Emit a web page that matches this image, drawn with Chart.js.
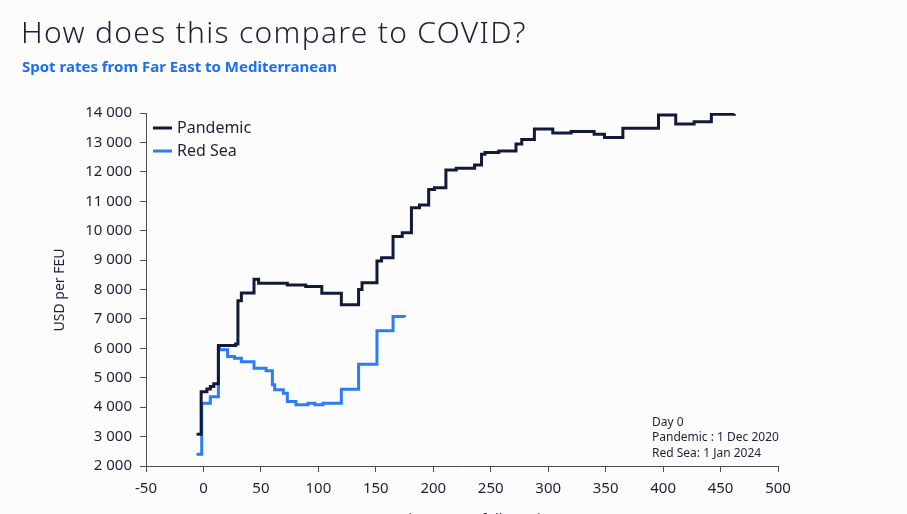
<!DOCTYPE html>
<html>
<head>
<meta charset="utf-8">
<script src="https://cdn.jsdelivr.net/npm/chart.js@4.4.1/dist/chart.umd.min.js"></script>
<style>
    html, body { margin: 0; padding: 0; background: #fcfcfd; }
    #wrap { width: 907px; height: 514px; position: relative; }
</style>
</head>
<body>
<div id="wrap"><canvas id="spotChart"></canvas></div>
<script>
// day since day 0 where each rate level starts (stepped lines)
const pandemicDays = [-6, -2, 3, 6, 9, 13, 28, 30, 33, 44, 48, 73, 89, 103, 120, 135, 138, 151, 155, 165, 173, 181, 188, 196, 201, 211, 220, 236, 242, 245, 257, 272, 277, 288, 304, 320, 340, 349, 365, 396, 411, 427, 442, 462];
const pandemicRates = [3080, 4520, 4620, 4700, 4800, 6100, 6150, 7620, 7880, 8350, 8210, 8150, 8100, 7870, 7480, 8000, 8230, 8970, 9080, 9800, 9930, 10780, 10870, 11400, 11460, 12060, 12120, 12230, 12600, 12660, 12710, 12950, 13100, 13460, 13320, 13370, 13280, 13170, 13480, 13930, 13630, 13700, 13960, 13970];

const redSeaDays = [-6, -1.5, 6, 13, 14, 21, 27, 33, 44, 54.5, 60, 62, 69.5, 73, 80.5, 91, 97, 104, 120, 135, 151, 165, 175];
const redSeaRates = [2400, 4130, 4350, 6000, 5950, 5720, 5660, 5540, 5320, 5240, 4760, 4590, 4470, 4190, 4080, 4130, 4080, 4130, 4610, 5460, 6600, 7080, 7060];

const xTickStep = 50;
const yTickStep = 1000;

const navy = '#121a3a';
const blue = '#2b7cf7';
const textColor = '#1c2135';
const axisColor = '#4a4d57';

function toPoints(days, rates) {
    return days.map(function (d, i) {
        return { x: d, y: rates[i] };
    });
}

function formatThousands(value) {
    return String(value).replace(/\B(?=(\d{3})+(?!\d))/g, ' ');
}

const decorPlugin = {
    id: 'decor',
    beforeDraw: function (chart) {
        const ctx = chart.ctx;
        ctx.save();
        ctx.fillStyle = '#fcfcfd';
        ctx.fillRect(0, 0, chart.width, chart.height);
        ctx.restore();
    },
    afterDraw: function (chart) {
        const ctx = chart.ctx;
        ctx.save();

        // heading
        ctx.fillStyle = textColor;
        ctx.textBaseline = 'alphabetic';
        ctx.textAlign = 'left';
        ctx.letterSpacing = '1.3px';
        ctx.font = '300 30px "Noto Sans"';
        ctx.fillText('How does this compare to COVID?', 21, 43);
        ctx.letterSpacing = '0px';

        ctx.fillStyle = '#1b6ff2';
        ctx.font = 'bold 15px "Noto Sans"';
        ctx.fillText('Spot rates from Far East to Mediterranean', 22, 72);

        // legend
        ctx.textBaseline = 'middle';
        ctx.font = '16px "Noto Sans"';
        const items = [
            { label: 'Pandemic', color: navy, y: 128 },
            { label: 'Red Sea', color: blue, y: 151 },
        ];
        items.forEach(function (item) {
            ctx.strokeStyle = item.color;
            ctx.lineWidth = 3;
            ctx.beginPath();
            ctx.moveTo(153, item.y);
            ctx.lineTo(172, item.y);
            ctx.stroke();
            ctx.fillStyle = textColor;
            ctx.fillText(item.label, 177, item.y);
        });

        // day 0 note
        ctx.font = '12px "Noto Sans"';
        ctx.fillText('Day 0', 652, 423);
        ctx.fillText('Pandemic : 1 Dec 2020', 652, 438);
        ctx.fillText('Red Sea: 1 Jan 2024', 652, 454);

        // axis titles
        ctx.font = '14px "Noto Sans"';
        ctx.textAlign = 'center';
        ctx.fillText('Days since start of disruption', 462, 520);

        ctx.translate(60, 290);
        ctx.rotate(-Math.PI / 2);
        ctx.fillText('USD per FEU', 0, 0);

        ctx.restore();
    },
};

new Chart(document.getElementById('spotChart'), {
    type: 'line',
    data: {
        datasets: [
            {
                label: 'Pandemic',
                data: toPoints(pandemicDays, pandemicRates),
                borderColor: navy,
                borderWidth: 3,
                pointRadius: 0,
                stepped: true,
            },
            {
                label: 'Red Sea',
                data: toPoints(redSeaDays, redSeaRates),
                borderColor: blue,
                borderWidth: 3,
                pointRadius: 0,
                stepped: true,
            },
        ],
    },
    options: {
        responsive: true,
        maintainAspectRatio: false,
        animation: false,
        layout: {
            padding: { left: 0, right: 129, top: 113, bottom: 0 },
        },
        plugins: {
            legend: { display: false },
            tooltip: { enabled: false },
        },
        scales: {
            x: {
                type: 'linear',
                min: -50,
                max: 500,
                ticks: {
                    stepSize: xTickStep,
                    color: textColor,
                    padding: 8,
                    font: { family: 'Noto Sans', size: 15 },
                },
                grid: { drawOnChartArea: false, tickLength: 6, color: axisColor },
                border: { color: axisColor },
                afterFit: function (scale) {
                    scale.height = 48;
                },
            },
            y: {
                min: 2000,
                max: 14000,
                ticks: {
                    stepSize: yTickStep,
                    color: textColor,
                    padding: 8,
                    font: { family: 'Noto Sans', size: 15 },
                    callback: function (value) {
                        return formatThousands(value);
                    },
                },
                grid: { drawOnChartArea: false, tickLength: 6, color: axisColor },
                border: { color: axisColor },
                afterFit: function (scale) {
                    scale.width = 146;
                },
            },
        },
    },
    plugins: [decorPlugin],
});
</script>
</body>
</html>
